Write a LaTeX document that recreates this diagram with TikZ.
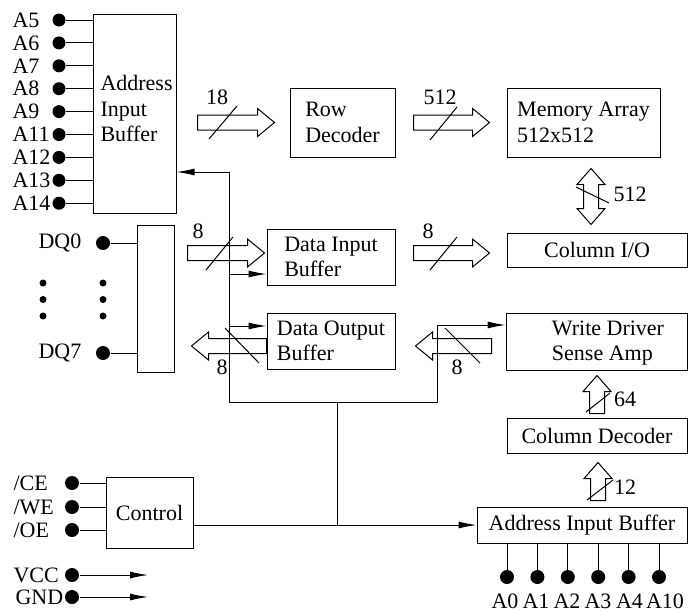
\documentclass[tikz,border=0pt]{standalone}
\usepackage{fontspec}
\setmainfont{Liberation Serif}
\usetikzlibrary{arrows.meta,positioning,calc}
\tikzset{
  sig/.style={-{Latex[length=9pt,width=3.5pt]}},
  box/.style={rectangle,draw,inner sep=0pt,align=left},
  termdot/.style={circle,fill,inner sep=0pt,minimum size=7pt},
  smalldot/.style={circle,fill,inner sep=0pt,minimum size=3.5pt},
  lbl/.style={inner sep=0pt},
}
% hollow bus arrows: tail, tip
\newcommand{\fatR}[2]{\draw let \p1=#1,\p2=#2 in
  (\x1,\y1+3.75pt) -- (\x2-8.5pt,\y1+3.75pt) -- (\x2-8.5pt,\y1+7pt) -- (\x2,\y1)
  -- (\x2-8.5pt,\y1-7pt) -- (\x2-8.5pt,\y1-3.75pt) -- (\x1,\y1-3.75pt) -- cycle;}
\newcommand{\fatL}[2]{\draw let \p1=#1,\p2=#2 in
  (\x1,\y1+3.75pt) -- (\x2+8.5pt,\y1+3.75pt) -- (\x2+8.5pt,\y1+7pt) -- (\x2,\y1)
  -- (\x2+8.5pt,\y1-7pt) -- (\x2+8.5pt,\y1-3.75pt) -- (\x1,\y1-3.75pt) -- cycle;}
\newcommand{\fatU}[2]{\draw let \p1=#1,\p2=#2 in
  (\x1-3.75pt,\y1) -- (\x1-3.75pt,\y2-8pt) -- (\x1-7pt,\y2-8pt) -- (\x1,\y2)
  -- (\x1+7pt,\y2-8pt) -- (\x1+3.75pt,\y2-8pt) -- (\x1+3.75pt,\y1) -- cycle;}
\newcommand{\fatUD}[2]{\draw let \p1=#1,\p2=#2 in
  (\x1,\y1) -- (\x1+7pt,\y1+8pt) -- (\x1+3.75pt,\y1+8pt) -- (\x1+3.75pt,\y2-8pt)
  -- (\x1+7pt,\y2-8pt) -- (\x1,\y2) -- (\x1-7pt,\y2-8pt) -- (\x1-3.75pt,\y2-8pt)
  -- (\x1-3.75pt,\y1+8pt) -- (\x1-7pt,\y1+8pt) -- cycle;}

\begin{document}
\begin{tikzpicture}[x=0.5pt,y=-0.5pt,line width=0.5pt,
  font=\fontsize{11}{12.75}\selectfont]
\useasboundingbox (0,0) rectangle (688,611);

% blocks
\node[box,minimum width=41.5pt,minimum height=99.5pt] (aib) at (134.5,113.5) {};
\node[lbl,anchor=west,align=left] (aibt) at (100,108.5) {Address\\Input\\Buffer};
\node[box,minimum width=52.5pt,minimum height=34.5pt] (row) at (342.5,122.5) {Row\\Decoder};
\node[box,minimum width=76.5pt,minimum height=34.5pt] (mem) at (583.5,122.5) {Memory Array\\512x512};
\node[box,minimum width=90pt,minimum height=17pt] (cio) at (597,250) {Column I/O};
\node[box,minimum width=64pt,minimum height=28pt] (dib) at (331,257) {Data Input\\Buffer};
\node[box,minimum width=64pt,minimum height=28pt] (dob) at (331,341) {Data Output\\Buffer};
\node[box,minimum width=90.5pt,minimum height=28.5pt] (wd) at (596.5,341.5) {};
\node[lbl,align=left] (wdt) at (608,343) {Write Driver\\Sense Amp};
\node[box,minimum width=90pt,minimum height=17.5pt] (cd) at (597,435.5) {Column Decoder};
\node[box,minimum width=105pt,minimum height=18pt] (aib2) at (582,525) {Address Input Buffer};
\node[box,minimum width=43.5pt,minimum height=35.5pt] (ctl) at (149.5,512.5) {Control};
\node[box,minimum width=18.5pt,minimum height=73.5pt] (dqb) at (155.5,298.5) {};

% address pins A5..A14
\foreach \n [count=\i from 0] in {5,6,7,8,9,11,12,13,14} {
  \node[termdot,minimum size=6.5pt] (a\n) at (59,20+22.9*\i) {};
  \node[lbl,anchor=west] (la\n) at (12,20+22.9*\i) {A\n};
  \draw (a\n) -- (a\n -| aib.west);
}

% data pins
\node[termdot] (dq0) at (103,243) {};
\node[termdot] (dq7) at (103,353) {};
\node[lbl,anchor=west] (ldq0) at (38,243) {DQ0};
\node[lbl,anchor=west] (ldq7) at (38,353) {DQ7};
\draw (dq0) -- (dq0 -| dqb.west);
\draw (dq7) -- (dq7 -| dqb.west);
\foreach \y [count=\i] in {283,299.5,316} {
  \node[smalldot] (el\i) at (43,\y) {};
  \node[smalldot] (er\i) at (103,\y) {};
}

% control pins
\foreach \s/\y in {CE/483,WE/507,OE/530} {
  \node[termdot] (c\s) at (72,\y) {};
  \node[lbl,anchor=west] (lc\s) at (13,\y) {/\s};
  \draw (c\s) -- (c\s -| ctl.west);
}
\node[termdot] (vcc) at (72,575) {};
\node[termdot] (gnd) at (72,597) {};
\node[lbl,anchor=west] (lvcc) at (13,575) {VCC};
\node[lbl,anchor=west] (lgnd) at (15,597) {GND};
\coordinate (vccend) at (148,575);
\coordinate (gndend) at (148,597);
\draw[sig] (vcc) -- (vccend);
\draw[sig] (gnd) -- (gndend);

% column address pins
\foreach \n/\lx [count=\i from 0] in {0/505,1/536,2/567,3/598,4/629.5,10/665} {
  \node[termdot] (b\n) at (507+30.4*\i,577) {};
  \node[lbl] (lb\n) at (\lx,601) {A\n};
  \draw (b\n) -- (b\n |- aib2.south);
}

% control bus
\coordinate (bt) at (229,172);
\coordinate (bb) at (229,402);
\coordinate (br) at (437,402);
\coordinate (bw) at (437,325);
\coordinate (bi) at (229,274);
\coordinate (bo) at (229,326);
\coordinate (jn) at (337,402);
\draw[sig] (bb) -- (bt) -- (bt -| aib.east);
\draw[sig] (bb) -- (br) -- (bw) -- (bw -| wd.west);
\draw[sig] (bi) -- (bi -| dib.west);
\draw[sig] (bo) -- (bo -| dob.west);
\draw (jn) -- (jn |- aib2.west);
\draw[sig] (aib2.west -| ctl.east) -- (aib2.west);

% buses
\fatR{($(row.west)+(-92,0)$)}{($(row.west)+(-15,0)$)}
\fatR{($(row.east)+(18,0)$)}{($(mem.west)+(-17,0)$)}
\fatR{($(dib.west)+(-79,-4)$)}{($(dib.west)+(-2,-4)$)}
\fatR{($(dib.east)+(18,-4)$)}{($(cio.west)+(-17,0)$)}
\fatL{($(dob.west)+(0,5)$)}{($(dob.west)+(-75,5)$)}
\fatL{($(wd.west)+(-14,4.5)$)}{($(dob.east)+(20,0)$)}
\fatUD{($(cio.north)+(-6,-8)$)}{($(mem.south)+(7.5,11)$)}
\fatU{($(cd.north)+(0,-4)$)}{($(wd.south)+(0,5)$)}
\fatU{($(aib2.north)+(16,-6)$)}{($(cd.south)+(0,9)$)}

\draw (209,139) -- (237,106);
\draw (430,140) -- (457,107);
\draw (206,270) -- (233,237);
\draw (430,270) -- (457,237);
\draw (225,328) -- (259,363);
\draw (445,328) -- (480,363);
\draw (576,187) -- (609,203);
\draw (586,412) -- (610,393);
\draw (587,500) -- (613,480);

\node[lbl] (w18) at (217,97) {18};
\node[lbl] (w512a) at (440,97) {512};
\node[lbl] (w8a) at (198,231) {8};
\node[lbl] (w8b) at (428,231) {8};
\node[lbl] (w8c) at (222,367) {8};
\node[lbl] (w8d) at (457,367) {8};
\node[lbl] (w512b) at (630,194) {512};
\node[lbl] (w64) at (625,399) {64};
\node[lbl] (w12) at (625,487) {12};
\end{tikzpicture}
\end{document}
